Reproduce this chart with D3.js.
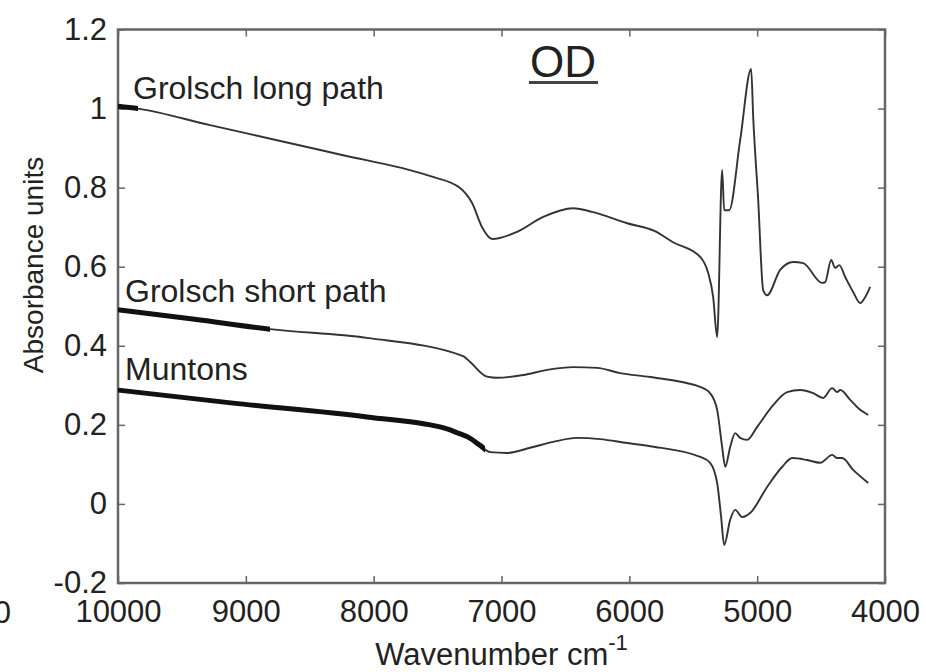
<!DOCTYPE html>
<html>
<head>
<meta charset="utf-8">
<script src="https://cdn.jsdelivr.net/npm/d3@7"></script>
<style>
  body { margin: 0; background: #fff; }
  text { font-family: "Liberation Sans", Arial, sans-serif; fill: #222; }
</style>
</head>
<body>
<div id="chart"></div>
<script>
// spectra (wavenumber cm-1, absorbance)
var seriesNames = ["Grolsch long path", "Grolsch short path", "Muntons"];

var longWn = [10000, 9843, 9280, 8756, 8239, 7668, 7535, 7324, 7230, 7152, 7073, 6878, 6674, 6440, 6283, 6017, 5800, 5658, 5446, 5383, 5344, 5313, 5274, 5258, 5219, 5133, 5047, 5031, 4992, 4953, 4922, 4820, 4718, 4640, 4491, 4468, 4421, 4390, 4358, 4311, 4249, 4194, 4155, 4116];
var longAbs = [1.006, 1.000, 0.958, 0.920, 0.882, 0.840, 0.827, 0.799, 0.761, 0.700, 0.670, 0.688, 0.726, 0.748, 0.738, 0.710, 0.690, 0.662, 0.625, 0.584, 0.523, 0.422, 0.845, 0.743, 0.743, 0.920, 1.100, 0.978, 0.769, 0.541, 0.528, 0.592, 0.612, 0.609, 0.559, 0.561, 0.617, 0.597, 0.604, 0.574, 0.536, 0.508, 0.523, 0.549];

var shortWn = [10000, 9400, 8811, 8052, 7300, 7245, 7113, 7034, 6831, 6643, 6440, 6252, 6072, 5837, 5446, 5368, 5313, 5274, 5250, 5211, 5172, 5133, 5078, 5000, 4875, 4765, 4664, 4562, 4484, 4413, 4374, 4350, 4272, 4194, 4131];
var shortAbs = [0.491, 0.467, 0.442, 0.420, 0.374, 0.359, 0.322, 0.319, 0.326, 0.339, 0.346, 0.344, 0.331, 0.321, 0.296, 0.280, 0.238, 0.144, 0.094, 0.144, 0.179, 0.167, 0.162, 0.195, 0.250, 0.283, 0.288, 0.280, 0.268, 0.293, 0.283, 0.288, 0.263, 0.238, 0.225];

var muntonsWn = [10000, 9100, 8052, 7426, 7347, 7245, 7167, 7089, 6956, 6776, 6596, 6408, 6229, 6017, 5837, 5446, 5368, 5313, 5282, 5258, 5211, 5172, 5117, 5055, 4922, 4804, 4726, 4609, 4507, 4413, 4374, 4335, 4249, 4131];
var muntonsAbs = [0.288, 0.255, 0.220, 0.190, 0.180, 0.166, 0.148, 0.131, 0.129, 0.142, 0.157, 0.167, 0.164, 0.154, 0.146, 0.119, 0.104, 0.053, -0.033, -0.104, -0.040, -0.015, -0.033, -0.023, 0.043, 0.094, 0.116, 0.111, 0.104, 0.124, 0.116, 0.116, 0.086, 0.053];

// where the heavy part of each trace stops
var thickEnd = [9843, 8811, 7128];

var xTicks = [10000, 9000, 8000, 7000, 6000, 5000, 4000];
var yTicks = [-0.2, 0, 0.2, 0.4, 0.6, 0.8, 1, 1.2];

var width = 926, height = 672;
var margin = { top: 29.5, right: 41, bottom: 89, left: 118 };

var svg = d3.select("#chart").append("svg")
    .attr("width", width)
    .attr("height", height);

svg.append("rect").attr("width", width).attr("height", height).attr("fill", "#fff");

var x = d3.scaleLinear().domain([10000, 4000]).range([margin.left, width - margin.right]);
var y = d3.scaleLinear().domain([-0.2, 1.2]).range([height - margin.bottom, margin.top]);

var series = [
    { wn: longWn, abs: longAbs },
    { wn: shortWn, abs: shortAbs },
    { wn: muntonsWn, abs: muntonsAbs }
];

var line = d3.line()
    .x(function (d) { return x(d[0]); })
    .y(function (d) { return y(d[1]); })
    .curve(d3.curveMonotoneX);

// axes: inward ticks on all four sides
var fmt = function (d) { return String(Math.round(d * 10) / 10); };

var xAxis = svg.append("g")
    .attr("transform", "translate(0," + y(-0.2) + ")")
    .call(d3.axisBottom(x).tickValues(xTicks).tickSizeInner(-7).tickSizeOuter(0).tickPadding(17).tickFormat(fmt));
var yAxis = svg.append("g")
    .attr("transform", "translate(" + x(10000) + ",0)")
    .call(d3.axisLeft(y).tickValues(yTicks).tickSizeInner(-7).tickSizeOuter(0).tickPadding(11).tickFormat(fmt));
var topAxis = svg.append("g")
    .attr("transform", "translate(0," + y(1.2) + ")")
    .call(d3.axisTop(x).tickValues(xTicks).tickSizeInner(-7).tickSizeOuter(0).tickFormat(""));
var rightAxis = svg.append("g")
    .attr("transform", "translate(" + x(4000) + ",0)")
    .call(d3.axisRight(y).tickValues(yTicks).tickSizeInner(-7).tickSizeOuter(0).tickFormat(""));

[xAxis, yAxis, topAxis, rightAxis].forEach(function (g) {
    g.select(".domain").remove();
    g.selectAll(".tick line").attr("stroke", "#666").attr("stroke-width", 1.5);
    g.selectAll(".tick text")
        .attr("fill", "#222")
        .style("font-size", "31px")
        .style("font-family", '"Liberation Sans", Arial, sans-serif');
});
xAxis.selectAll(".tick text").attr("dy", "0.72em");

// frame
svg.append("rect")
    .attr("x", x(10000))
    .attr("y", y(1.2))
    .attr("width", x(4000) - x(10000))
    .attr("height", y(-0.2) - y(1.2))
    .attr("fill", "none")
    .attr("stroke", "#666")
    .attr("stroke-width", 2.5);

// traces
series.forEach(function (s, i) {
    var pts = s.wn.map(function (w, j) { return [w, s.abs[j]]; });

    svg.append("path")
        .attr("d", line(pts))
        .attr("fill", "none")
        .attr("stroke", "#333")
        .attr("stroke-width", 1.9)
        .attr("stroke-linejoin", "round");

    //heavy start of the trace, clipped from the same curve
    svg.append("clipPath")
        .attr("id", "thick" + i)
        .append("rect")
        .attr("x", x(10000))
        .attr("y", 0)
        .attr("width", x(thickEnd[i]) - x(10000))
        .attr("height", height);

    svg.append("path")
        .attr("d", line(pts))
        .attr("clip-path", "url(#thick" + i + ")")
        .attr("fill", "none")
        .attr("stroke", "#111")
        .attr("stroke-width", 5);
});

// series labels near the start of each trace
var labelDx = [15, 7, 7];
var labelDy = [-7, -8, -10];
series.forEach(function (s, i) {
    svg.append("text")
        .attr("x", x(10000) + labelDx[i])
        .attr("y", y(s.abs[0]) + labelDy[i])
        .style("font-size", "32px")
        .text(seriesNames[i]);
});

// OD title, underlined
svg.append("text")
    .attr("x", 563)
    .attr("y", 77)
    .attr("text-anchor", "middle")
    .style("font-size", "44px")
    .text("OD");
svg.append("line")
    .attr("x1", 529).attr("x2", 598)
    .attr("y1", 82.5).attr("y2", 82.5)
    .attr("stroke", "#444")
    .attr("stroke-width", 3);

// axis titles
var xTitle = svg.append("text")
    .attr("x", (x(10000) + x(4000)) / 2)
    .attr("y", 665)
    .attr("text-anchor", "middle")
    .style("font-size", "31px");
xTitle.append("tspan").text("Wavenumber cm");
xTitle.append("tspan").attr("dy", -15).style("font-size", "22px").text("-1");

svg.append("text")
    .attr("transform", "translate(43,265) rotate(-90)")
    .attr("text-anchor", "middle")
    .style("font-size", "28px")
    .text("Absorbance units");

// cut-off tick label from the neighbouring panel at the left edge
svg.append("text")
    .attr("x", 11)
    .attr("y", 623)
    .attr("text-anchor", "end")
    .style("font-size", "31px")
    .text("4000");
</script>
</body>
</html>
